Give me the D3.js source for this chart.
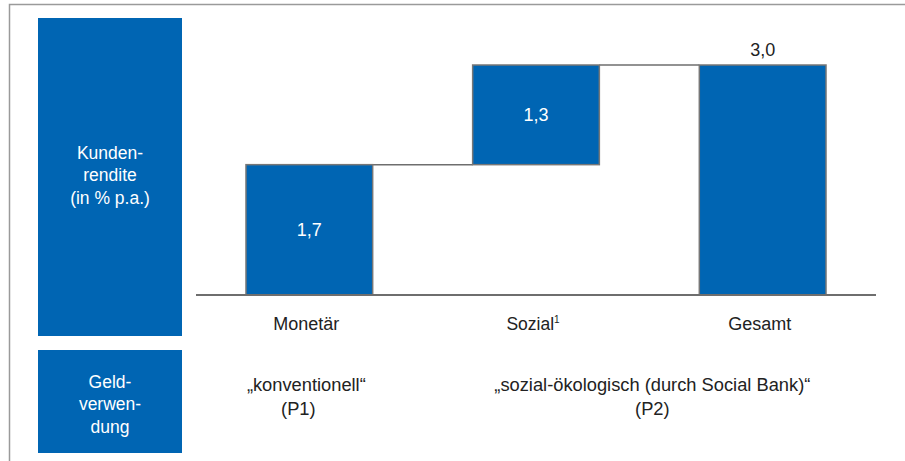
<!DOCTYPE html>
<html lang="de">
<head>
<meta charset="utf-8">
<title>Kundenrendite</title>
<script src="https://d3js.org/d3.v7.min.js"></script>
<style>
  body { margin: 0; background: #fff; }
  svg text { font-family: "Liberation Sans", Arial, sans-serif; }
</style>
</head>
<body>
<svg id="chart" width="905" height="461"></svg>
<script>
// data
const categories = ["Monetär", "Sozial", "Gesamt"];
const footnotes = ["", "1", ""];
const values = [1.7, 1.3, 3.0];
const isTotal = [false, false, true];
const valueLabels = ["1,7", "1,3", "3,0"];
const groupLabels = [["„konventionell“", "(P1)"], ["„sozial-ökologisch (durch Social Bank)“", "(P2)"]];
const groupSpans = [[0, 0], [1, 2]];
const rowLabels = [["Kunden-", "rendite", "(in % p.a.)"], ["Geld-", "verwen-", "dung"]];

const blue = "#0065b3";
const svg = d3.select("#chart");

// frame: top and left border only
svg.append("path")
  .attr("d", "M9.5,461 V4.5 H905")
  .attr("fill", "none").attr("stroke", "#9a9a9a").attr("stroke-width", 1.5);

// left header boxes
const rowBoxes = [{ y0: 18, y1: 336, cy: 175 }, { y0: 350, y1: 453, cy: 404 }];
rowBoxes.forEach((b, i) => {
  svg.append("rect").attr("x", 38).attr("y", b.y0).attr("width", 144).attr("height", b.y1 - b.y0).attr("fill", blue);
  const t = svg.append("text").attr("text-anchor", "middle").attr("fill", "#fff").attr("font-size", 17.5);
  rowLabels[i].forEach((s, j) => {
    t.append("tspan").attr("x", 110).attr("y", b.cy + (j - 1) * 22.5 + 6).text(s);
  });
});

// scales
const x = d3.scaleBand().domain(categories).range([196, 876]).paddingInner(0.441).paddingOuter(0.2205);
const y = d3.scaleLinear().domain([0, 3]).range([295, 65]);

// waterfall bases
let run = 0;
const bars = categories.map((c, i) => {
  const base = isTotal[i] ? 0 : run;
  const top = isTotal[i] ? values[i] : run + values[i];
  if (!isTotal[i]) run = top;
  return { c, i, base, top };
});

// connectors
bars.slice(0, -1).forEach((d, i) => {
  const next = categories[i + 1];
  svg.append("line")
    .attr("x1", x(d.c) + x.bandwidth()).attr("x2", x(next))
    .attr("y1", y(d.top)).attr("y2", y(d.top))
    .attr("stroke", "#6e6e6e").attr("stroke-width", 1.5);
});

svg.selectAll("rect.bar").data(bars).enter().append("rect")
  .attr("class", "bar")
  .attr("x", d => x(d.c))
  .attr("y", d => y(d.top))
  .attr("width", x.bandwidth())
  .attr("height", d => y(d.base) - y(d.top))
  .attr("fill", blue)
  .attr("stroke", "#777").attr("stroke-width", 1.5);

// baseline
svg.append("line")
  .attr("x1", x.range()[0]).attr("x2", x.range()[1])
  .attr("y1", y(0)).attr("y2", y(0))
  .attr("stroke", "#6e6e6e").attr("stroke-width", 2);

// value labels
svg.selectAll("text.val").data(bars).enter().append("text")
  .attr("class", "val")
  .attr("text-anchor", "middle")
  .attr("font-size", 18)
  .attr("x", d => x(d.c) + x.bandwidth() / 2)
  .attr("y", d => isTotal[d.i] ? y(d.top) - 9 : (y(d.top) + y(d.base)) / 2 + 6)
  .attr("fill", d => isTotal[d.i] ? "#222" : "#fff")
  .text(d => valueLabels[d.i]);

// category labels
svg.selectAll("text.cat").data(bars).enter().append("text")
  .attr("class", "cat")
  .attr("text-anchor", "middle")
  .attr("font-size", d => footnotes[d.i] ? 17.5 : 18)
  .attr("fill", "#222")
  .attr("x", d => x(d.c) + x.bandwidth() / 2 - 3)
  .attr("y", y(0) + 35)
  .each(function (d) {
    const t = d3.select(this);
    t.append("tspan").text(d.c);
    if (footnotes[d.i]) t.append("tspan").attr("font-size", 10).attr("dy", -7).text(footnotes[d.i]);
  });

// group labels (Geldverwendung row)
groupLabels.forEach((lines, g) => {
  const [a, b] = groupSpans[g];
  const cx = (x(categories[a]) + x(categories[b]) + x.bandwidth()) / 2;
  const t = svg.append("text").attr("text-anchor", "middle").attr("font-size", 18.3).attr("fill", "#222");
  lines.forEach((s, j) => {
    t.append("tspan").attr("x", cx - (j === 1 && g === 0 ? 8 : 0) + (g === 1 ? 3 : -3)).attr("y", 391 + j * 24).text(s);
  });
});
</script>
</body>
</html>
